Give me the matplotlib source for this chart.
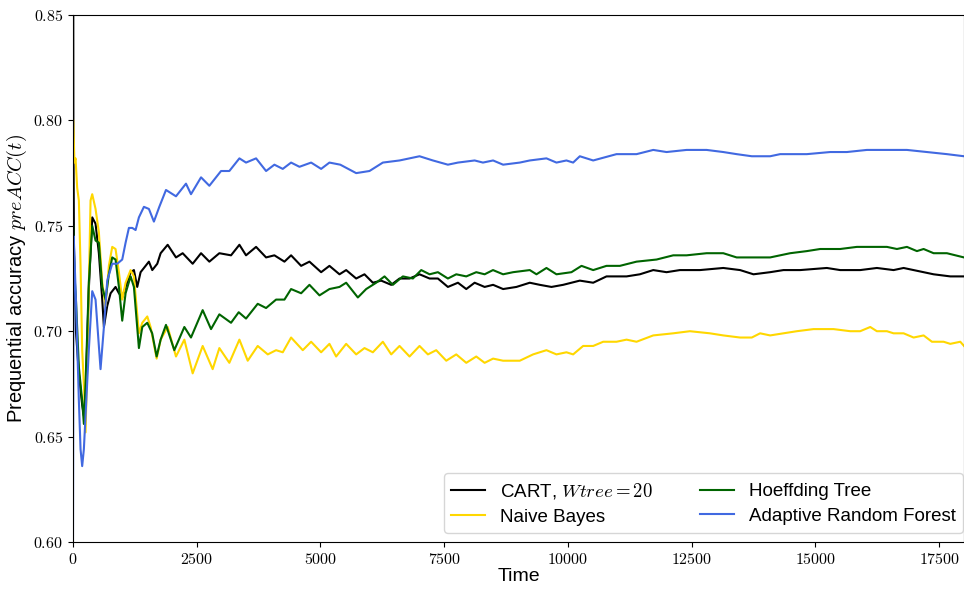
import matplotlib
matplotlib.use("Agg")
import matplotlib.pyplot as plt
from matplotlib.ticker import FuncFormatter, MultipleLocator

plt.rcParams["font.family"] = ["Liberation Sans", "DejaVu Sans"]
plt.rcParams["mathtext.fontset"] = "cm"

# Prequential accuracy traces: (time, accuracy)
cart = [(0, 1.0), (8, 0.80), (20, 0.74), (60, 0.70), (119, 0.68), (186, 0.665), (220, 0.66),
        (254, 0.67), (320, 0.72), (389, 0.754), (456, 0.751), (523, 0.737), (591, 0.715),
        (625, 0.702), (692, 0.712), (760, 0.718), (860, 0.721), (928, 0.718), (995, 0.716),
        (1063, 0.721), (1164, 0.728), (1231, 0.729), (1298, 0.721), (1366, 0.728), (1467, 0.731),
        (1534, 0.733), (1602, 0.729), (1703, 0.732), (1771, 0.737), (1913, 0.741), (2081, 0.735),
        (2216, 0.737), (2418, 0.732), (2587, 0.737), (2755, 0.733), (2957, 0.737), (3193, 0.736),
        (3362, 0.741), (3496, 0.736), (3699, 0.740), (3901, 0.735), (4069, 0.736), (4272, 0.733),
        (4406, 0.736), (4609, 0.731), (4777, 0.733), (5013, 0.728), (5181, 0.731), (5384, 0.727),
        (5519, 0.729), (5721, 0.725), (5889, 0.727), (6058, 0.723), (6226, 0.724), (6429, 0.722),
        (6597, 0.725), (6799, 0.725), (7001, 0.727), (7204, 0.725), (7372, 0.725), (7574, 0.721),
        (7777, 0.723), (7945, 0.720), (8114, 0.723), (8316, 0.721), (8487, 0.722), (8689, 0.720),
        (8958, 0.721), (9228, 0.723), (9430, 0.722), (9666, 0.721), (9902, 0.722), (10239, 0.724),
        (10509, 0.723), (10778, 0.726), (11183, 0.726), (11452, 0.727), (11722, 0.729),
        (11991, 0.728), (12261, 0.729), (12665, 0.729), (13137, 0.730), (13477, 0.729),
        (13747, 0.727), (14084, 0.728), (14353, 0.729), (14690, 0.729), (15229, 0.730),
        (15499, 0.729), (15903, 0.729), (16240, 0.730), (16577, 0.729), (16780, 0.730),
        (16982, 0.729), (17386, 0.727), (17723, 0.726), (18000, 0.726)]

naive_bayes = [(5, 0.80), (30, 0.78), (52, 0.782), (85, 0.768), (119, 0.762), (153, 0.731),
               (186, 0.691), (220, 0.675), (254, 0.652), (287, 0.683), (355, 0.762), (389, 0.765),
               (456, 0.758), (523, 0.747), (591, 0.723), (658, 0.712), (725, 0.731), (793, 0.740),
               (860, 0.739), (928, 0.728), (995, 0.715), (1063, 0.723), (1164, 0.729), (1231, 0.726),
               (1332, 0.699), (1400, 0.704), (1501, 0.707), (1568, 0.702), (1690, 0.687),
               (1771, 0.696), (1913, 0.702), (2081, 0.688), (2250, 0.696), (2418, 0.680),
               (2620, 0.693), (2822, 0.682), (2957, 0.692), (3159, 0.685), (3362, 0.696),
               (3530, 0.686), (3732, 0.693), (3935, 0.689), (4103, 0.691), (4238, 0.690),
               (4406, 0.697), (4642, 0.691), (4811, 0.695), (5013, 0.690), (5181, 0.694),
               (5316, 0.688), (5519, 0.694), (5721, 0.689), (5889, 0.692), (6058, 0.690),
               (6260, 0.695), (6429, 0.689), (6597, 0.693), (6799, 0.688), (7001, 0.693),
               (7170, 0.689), (7338, 0.691), (7541, 0.686), (7743, 0.689), (7945, 0.685),
               (8147, 0.688), (8316, 0.685), (8487, 0.687), (8689, 0.686), (9026, 0.686),
               (9295, 0.689), (9565, 0.691), (9767, 0.689), (9969, 0.690), (10104, 0.689),
               (10306, 0.693), (10509, 0.693), (10711, 0.695), (10980, 0.695), (11183, 0.696),
               (11385, 0.695), (11722, 0.698), (12126, 0.699), (12463, 0.700), (12867, 0.699),
               (13137, 0.698), (13477, 0.697), (13713, 0.697), (13881, 0.699), (14084, 0.698),
               (14353, 0.699), (14623, 0.700), (14960, 0.701), (15364, 0.701), (15701, 0.700),
               (15903, 0.700), (16106, 0.702), (16240, 0.700), (16443, 0.700), (16577, 0.699),
               (16780, 0.699), (16982, 0.697), (17184, 0.698), (17352, 0.695), (17588, 0.695),
               (17723, 0.694), (17925, 0.695), (18000, 0.693)]

hoeffding = [(5, 0.75), (30, 0.727), (60, 0.715), (119, 0.683), (186, 0.667), (220, 0.656),
             (254, 0.675), (320, 0.723), (389, 0.75), (456, 0.743), (523, 0.742), (591, 0.721),
             (658, 0.715), (725, 0.727), (793, 0.735), (860, 0.734), (928, 0.721), (995, 0.705),
             (1063, 0.718), (1164, 0.726), (1231, 0.721), (1332, 0.692), (1400, 0.702),
             (1501, 0.704), (1600, 0.699), (1690, 0.688), (1771, 0.696), (1879, 0.703),
             (2047, 0.691), (2250, 0.702), (2384, 0.697), (2620, 0.710), (2789, 0.701),
             (2957, 0.708), (3193, 0.704), (3348, 0.709), (3496, 0.706), (3732, 0.713),
             (3901, 0.711), (4103, 0.715), (4272, 0.715), (4406, 0.720), (4609, 0.718),
             (4777, 0.722), (4980, 0.717), (5181, 0.720), (5384, 0.721), (5519, 0.723),
             (5755, 0.716), (5923, 0.720), (6125, 0.723), (6294, 0.726), (6462, 0.722),
             (6664, 0.726), (6867, 0.725), (7035, 0.729), (7204, 0.727), (7372, 0.728),
             (7574, 0.725), (7743, 0.727), (7945, 0.726), (8147, 0.728), (8316, 0.727),
             (8485, 0.729), (8689, 0.727), (8891, 0.728), (9228, 0.729), (9363, 0.727),
             (9565, 0.730), (9767, 0.727), (10070, 0.728), (10273, 0.731), (10509, 0.729),
             (10778, 0.731), (11048, 0.731), (11385, 0.733), (11789, 0.734), (12126, 0.736),
             (12396, 0.736), (12800, 0.737), (13137, 0.737), (13407, 0.735), (13713, 0.735),
             (14084, 0.735), (14488, 0.737), (14825, 0.738), (15095, 0.739), (15499, 0.739),
             (15836, 0.740), (16106, 0.740), (16443, 0.740), (16645, 0.739), (16847, 0.740),
             (17049, 0.738), (17184, 0.739), (17386, 0.737), (17655, 0.737), (18000, 0.735)]

arf = [(0, 0.60), (8, 0.70), (15, 0.745), (30, 0.735), (60, 0.715), (119, 0.667), (153, 0.644),
       (186, 0.636), (220, 0.644), (254, 0.66), (320, 0.691), (389, 0.719), (456, 0.715),
       (523, 0.693), (557, 0.682), (625, 0.702), (692, 0.724), (793, 0.732), (894, 0.732),
       (995, 0.734), (1063, 0.742), (1130, 0.749), (1198, 0.749), (1265, 0.748), (1332, 0.754),
       (1433, 0.759), (1534, 0.758), (1635, 0.752), (1744, 0.759), (1879, 0.767), (2081, 0.764),
       (2283, 0.770), (2384, 0.765), (2587, 0.773), (2755, 0.769), (2991, 0.776), (3159, 0.776),
       (3362, 0.782), (3496, 0.780), (3699, 0.782), (3901, 0.776), (4069, 0.779), (4238, 0.777),
       (4406, 0.780), (4575, 0.778), (4811, 0.780), (5013, 0.777), (5181, 0.780), (5400, 0.779),
       (5721, 0.775), (5990, 0.776), (6260, 0.780), (6597, 0.781), (7001, 0.783), (7271, 0.781),
       (7574, 0.779), (7777, 0.780), (8114, 0.781), (8282, 0.780), (8487, 0.781), (8689, 0.779),
       (9026, 0.780), (9228, 0.781), (9565, 0.782), (9767, 0.780), (9969, 0.781), (10104, 0.780),
       (10239, 0.783), (10509, 0.781), (10980, 0.784), (11385, 0.784), (11722, 0.786),
       (11991, 0.785), (12396, 0.786), (12800, 0.786), (13137, 0.785), (13407, 0.784),
       (13713, 0.783), (14084, 0.783), (14286, 0.784), (14825, 0.784), (15297, 0.785),
       (15634, 0.785), (16038, 0.786), (16443, 0.786), (16847, 0.786), (17251, 0.785),
       (17655, 0.784), (18000, 0.783)]

series = [
    (cart, "CART, $Wtree=20$", "black"),
    (naive_bayes, "Naive Bayes", "#FFD700"),
    (hoeffding, "Hoeffding Tree", "#006400"),
    (arf, "Adaptive Random Forest", "#4169E1"),
]

fig = plt.figure(figsize=(9.64, 5.89), dpi=100)
ax = fig.add_axes([0.0757, 0.0798, 0.9243, 0.8947])

for data, label, color in series:
    t, acc = zip(*data)
    ax.plot(t, acc, color=color, lw=1.5, label=label)

ax.set_xlim(0, 18000)
ax.set_ylim(0.60, 0.85)
ax.xaxis.set_major_locator(MultipleLocator(2500))
ax.yaxis.set_major_locator(MultipleLocator(0.05))
ax.xaxis.set_major_formatter(FuncFormatter(lambda v, p: f"${int(round(v))}$"))
ax.yaxis.set_major_formatter(FuncFormatter(lambda v, p: f"${v:.2f}$"))
ax.tick_params(labelsize=11.5)

ax.set_xlabel("Time", fontsize=14, labelpad=1)
ax.set_ylabel("Prequential accuracy $preACC(t)$", fontsize=14.5, labelpad=3)

ax.legend(loc="lower right", ncol=2, fontsize=13.5, bbox_to_anchor=(0.999, 0.017),
          borderaxespad=0, handlelength=1.8, columnspacing=2.5, labelspacing=0.4)

fig.savefig("out.png", dpi=100)
